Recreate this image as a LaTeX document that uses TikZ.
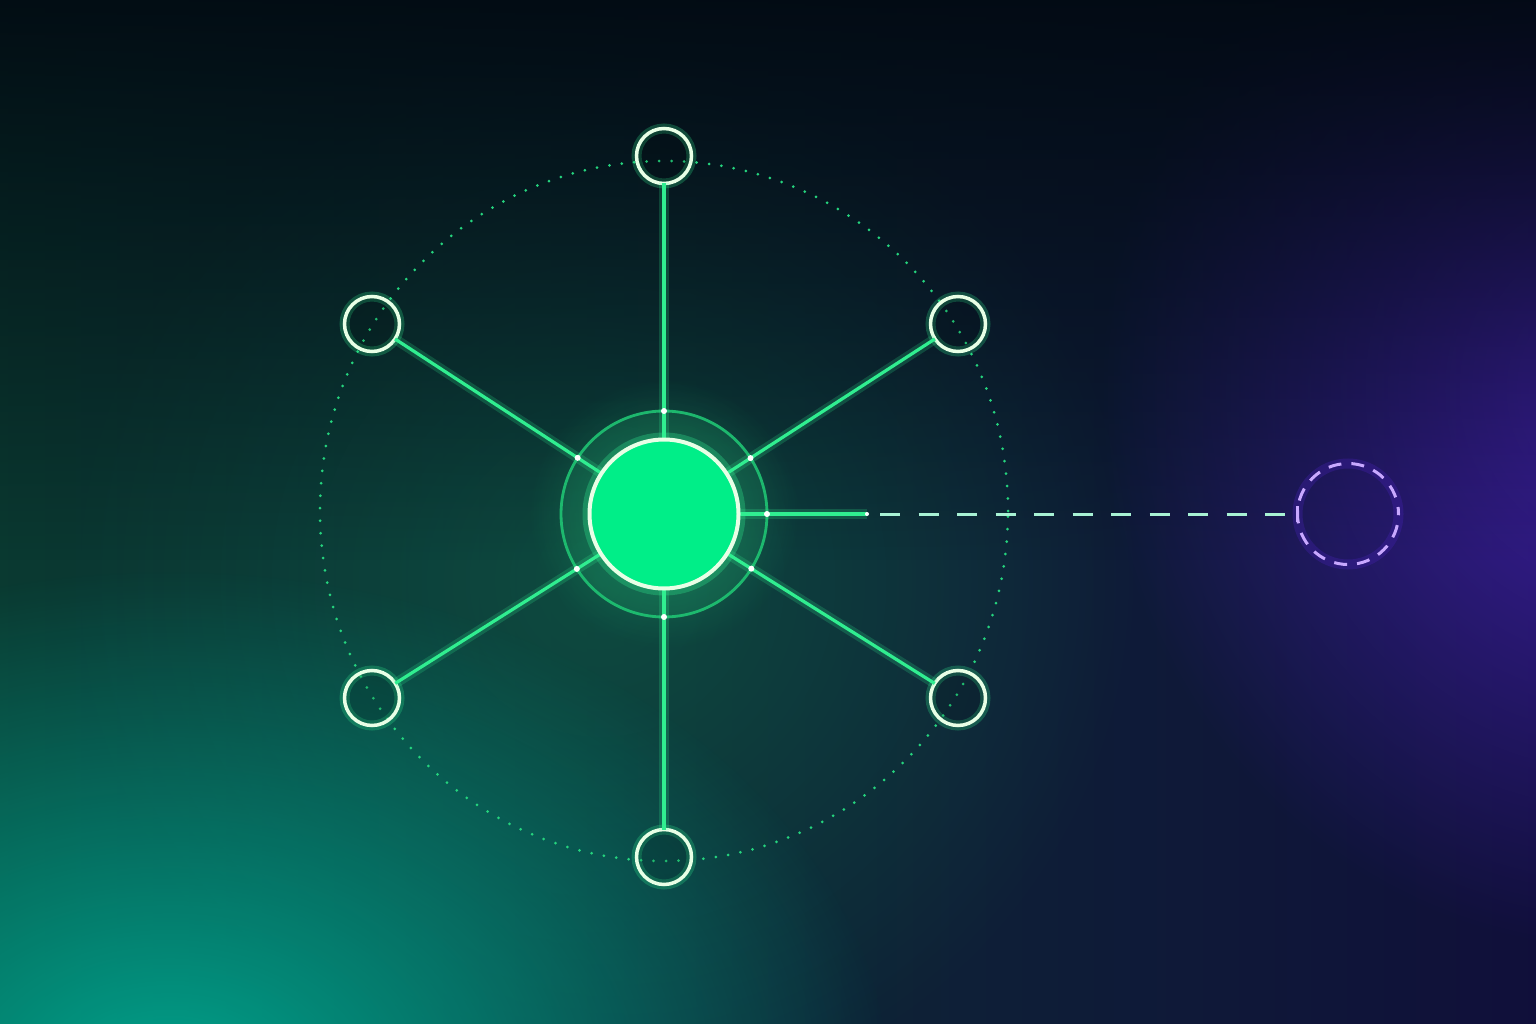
\documentclass[tikz,border=0pt]{standalone}
\usetikzlibrary{calc,fadings}

\definecolor{bgleft}{HTML}{0A3A31}
\definecolor{bgmid}{HTML}{072A2A}
\definecolor{bgright}{HTML}{100F3A}
\definecolor{bgdark}{HTML}{020A12}
\definecolor{tealglow}{HTML}{00AA92}
\definecolor{purpleglow}{HTML}{4321AE}
\definecolor{centerglow}{HTML}{0E5A45}
\definecolor{hubgreen}{HTML}{00EE88}
\definecolor{spoke}{HTML}{30EE90}
\definecolor{ringgreen}{HTML}{1FC473}
\definecolor{dotgreen}{HTML}{25D47E}
\definecolor{rimwhite}{HTML}{E8FFE6}
\definecolor{mint}{HTML}{A8F2D4}
\definecolor{lilac}{HTML}{C8A8FF}

\tikzfading[name=softglow, inner color=transparent!0, outer color=transparent!100]
\tikzfading[name=topdark, top color=transparent!0, bottom color=transparent!100]

\tikzset{
  sat/.style={circle, draw=rimwhite, line width=3.5pt, minimum size=55pt, inner sep=0pt, outer sep=0pt,
    fill=black, fill opacity=0.12,
    preaction={draw=spoke, line width=10pt, draw opacity=0.25}},
  hub/.style={circle, draw=rimwhite, fill=hubgreen, line width=4pt, minimum size=149pt, inner sep=0pt, outer sep=0pt,
    preaction={draw=spoke, line width=14pt, draw opacity=0.3}},
  ghost/.style={circle, draw=lilac, line width=3pt, minimum size=101pt, inner sep=0pt, outer sep=0pt,
    dash pattern=on 13pt off 10pt, dash phase=6pt,
    preaction={draw=purpleglow, line width=10pt, draw opacity=0.35, solid}},
  spk/.style={draw=spoke, line width=3.2pt,
    preaction={draw=spoke, line width=10pt, draw opacity=0.2}},
  ringdot/.style={fill=white},
}

\begin{document}
\begin{tikzpicture}[x=1pt, y=-1pt]
\useasboundingbox (0,0) rectangle (1536,1024);

% background
\shade[left color=bgleft, middle color=bgmid, right color=bgright] (-10,-10) rectangle (1546,1034);
\fill[centerglow, path fading=softglow, fill opacity=0.7] (600,580) circle (540pt);
\fill[tealglow, path fading=softglow, fill opacity=0.95] (170,1090) ellipse (720pt and 520pt);
\fill[purpleglow, path fading=softglow, fill opacity=0.9] (1620,390) ellipse (520pt and 560pt);
\fill[bgdark, path fading=topdark, fill opacity=0.95] (-10,-10) rectangle (1546,560);

% dotted orbit
\draw[dotgreen, line width=3pt, line cap=round, dash pattern=on 0pt off 12.5pt] (664,511) ellipse (344pt and 350pt);

% nodes
\node[sat] (top) at (664,156) {};
\node[sat] (upleft) at (372,324) {};
\node[sat] (upright) at (958,324) {};
\node[sat] (lowleft) at (372,698) {};
\node[sat] (lowright) at (958,698) {};
\node[sat] (bottom) at (664,857) {};
\node[ghost] (ext) at (1348,514) {};
\coordinate (solidend) at (867,514);
\coordinate (dashstart) at (880,514);

% hub glow and ring
\fill[spoke, path fading=softglow, fill opacity=0.3] (664,514) circle (135pt);
\fill[spoke, fill opacity=0.1] (664,514) circle (103pt);
\draw[ringgreen, line width=2.8pt, draw opacity=0.9] (664,514) circle (103pt);

% spokes
\draw[spk] (664,514) -- (top);
\draw[spk] (664,514) -- (upleft);
\draw[spk] (664,514) -- (upright);
\draw[spk] (664,514) -- (lowleft);
\draw[spk] (664,514) -- (lowright);
\draw[spk] (664,514) -- (bottom);
\draw[spk] (664,514) -- (solidend);
\fill[white] (solidend) circle (2pt);

\node[hub] (hub) at (664,514) {};

% link to outside
\draw[mint, line width=3pt, dash pattern=on 20pt off 18.5pt] (dashstart) -- (ext.west);
\draw[lilac, line width=2.5pt] ($(ext.west)+(0,-8)$) -- ($(ext.west)+(0,8)$);

% dots on ring
\fill[ringdot] ($(hub)!103pt!(top)$) circle (3pt);
\fill[ringdot] ($(hub)!103pt!(upleft)$) circle (3pt);
\fill[ringdot] ($(hub)!103pt!(upright)$) circle (3pt);
\fill[ringdot] ($(hub)!103pt!(lowleft)$) circle (3pt);
\fill[ringdot] ($(hub)!103pt!(lowright)$) circle (3pt);
\fill[ringdot] ($(hub)!103pt!(bottom)$) circle (3pt);
\fill[ringdot] ($(hub)!103pt!(solidend)$) circle (3pt);
\end{tikzpicture}
\end{document}
